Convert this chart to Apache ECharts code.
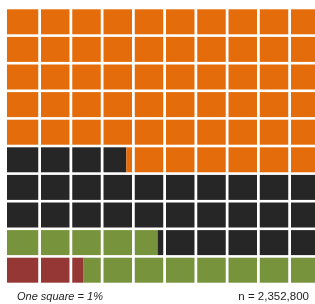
<!DOCTYPE html>
<html lang="en">
<head>
    <meta charset="UTF-8">
    <title>waffle</title>
    <style type="text/css">
        html, body {
            margin: 0;
            padding: 0;
            background: #fff;
        }
        #box {
            width: 315px;
            height: 304px;
        }
    </style>
</head>
<body>
<div id="box"></div>
<script type="text/javascript" src="https://cdn.jsdelivr.net/npm/echarts@6/dist/echarts.min.js"></script>
<script type="text/javascript">
    // shares in percent, filled from bottom-left, row by row
    const categories = ['Group A', 'Group B', 'Group C', 'Group D'];
    const shares = [2.4, 12.4, 29.0, 56.2];
    const colors = ['#953735', '#77933c', '#262626', '#e46c0a'];
    const footLeft = 'One square = 1%';
    const footRight = 'n = 2,352,800';

    function buildCells() {
        let result = [];
        let start = 0;
        for (let c = 0; c < shares.length; c++) {
            let end = start + shares[c];
            for (let k = Math.floor(start); k < Math.min(100, Math.ceil(end)); k++) {
                let f0 = Math.max(start, k) - k;
                let f1 = Math.min(end, k + 1) - k;
                if (f1 - f0 <= 0) continue;
                result.push([k % 10, Math.floor(k / 10), f0, f1, c]);
            }
            start = end;
        }
        return result;
    }

    function renderCell(params, api) {
        let col = api.value(0);
        let row = api.value(1);
        let f0 = api.value(2);
        let f1 = api.value(3);
        let c = api.value(4);
        let p = api.coord([col, row + 1]);
        let size = api.size([1, 1]);
        let w = size[0] - 2.75;
        let h = size[1] - 2.6;
        let x0 = p[0] + f0 * w;
        let x1 = p[0] + f1 * w;
        // first column is a bit wider on the left in the original
        if (col === 0 && f0 === 0) x0 -= 2.75;
        return {
            type: 'rect',
            shape: {x: x0, y: p[1], width: x1 - x0, height: h},
            style: {fill: colors[c]}
        };
    }

    let myChart = echarts.init(document.getElementById('box'));
    let option = {
        animation: false,
        title: [
            {
                text: footLeft,
                left: 17,
                top: 291,
                padding: 0,
                textStyle: {
                    fontFamily: 'Liberation Sans',
                    fontStyle: 'italic',
                    fontWeight: 'normal',
                    fontSize: 11,
                    color: '#222'
                }
            },
            {
                text: footRight,
                right: 6,
                top: 291,
                padding: 0,
                textStyle: {
                    fontFamily: 'Liberation Sans',
                    fontWeight: 'normal',
                    fontSize: 11.5,
                    color: '#222'
                }
            }
        ],
        grid: {left: 9.75, top: 9.3, width: 312.5, height: 276, outerBoundsMode: 'none'},
        xAxis: {type: 'value', min: 0, max: 10, show: false},
        yAxis: {type: 'value', min: 0, max: 10, show: false},
        series: [
            {
                type: 'custom',
                name: 'waffle',
                renderItem: renderCell,
                data: buildCells()
            }
        ]
    };
    myChart.setOption(option);
</script>
</body>
</html>
